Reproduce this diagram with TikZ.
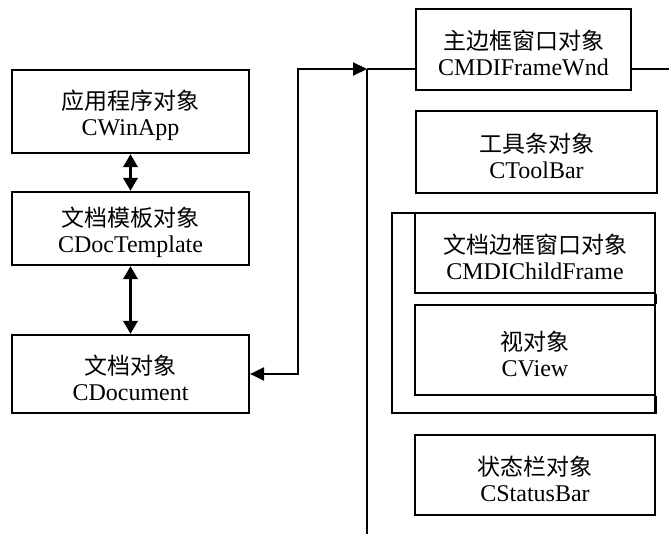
\documentclass[tikz,border=0pt]{standalone}
\usepackage{fontspec}
\setmainfont{Liberation Serif}
\newfontfamily\cjk{Noto Sans CJK SC}
\usetikzlibrary{arrows.meta}
\newcommand{\twol}[2]{\rule{0pt}{27pt}{\cjk\fontsize{23}{26}\selectfont #1}\\#2}
\begin{document}
\begin{tikzpicture}[x=1pt,y=-1pt,
  box/.style={draw,line width=2.2pt,rectangle,inner sep=0pt,align=center,
    font=\fontsize{24}{26}\selectfont,fill=white},
  conn/.style={line width=2.2pt},
  thick conn/.style={line width=3.6pt},
  tips/.style={{Triangle[length=13pt,width=14pt]}-{Triangle[length=13pt,width=14pt]}},
  tipl/.style={{Triangle[length=14pt,width=13pt]}-{Triangle[length=14pt,width=13pt]}}]
\useasboundingbox (0,0) rectangle (669,534);
% left column
\node[box,minimum width=237pt,minimum height=83pt] (app) at (130.5,111.5) {\twol{应用程序对象}{CWinApp}};
\node[box,minimum width=237pt,minimum height=73pt] (tmpl) at (130.5,228.5) {\twol{文档模板对象}{CDocTemplate}};
\node[box,minimum width=237pt,minimum height=78pt] (doc) at (130.5,374) {\twol{文档对象}{CDocument}};
\draw[thick conn,tips] (app.south) -- (tmpl.north);
\draw[thick conn,tips] (tmpl.south) -- (doc.north);
% right column
\node[box,minimum width=215pt,minimum height=81pt] (main) at (523.5,49.5) {\twol{主边框窗口对象}{CMDIFrameWnd}};
\node[box,minimum width=241pt,minimum height=82pt] (bar) at (536.5,152) {\twol{工具条对象}{CToolBar}};
\node[draw,line width=2.2pt,minimum width=263pt,minimum height=200pt,inner sep=0pt] (outer) at (523.5,313) {};
\node[box,minimum width=240pt,minimum height=80pt] (child) at (535,253) {\twol{文档边框窗口对象}{CMDIChildFrame}};
\node[box,minimum width=240pt,minimum height=90pt] (view) at (535,350) {\twol{视对象}{CView}};
\draw[conn] (child.south east) -- (view.north east);
\draw[conn] (view.south east) -- (outer.south east);
\node[box,minimum width=240pt,minimum height=80pt] (status) at (535,475) {\twol{状态栏对象}{CStatusBar}};
% bus
\coordinate (vt) at (367,69);
\coordinate (vb) at (367,534);
\coordinate (bend) at (298,69);
\coordinate (rend) at (669,69);
\draw[conn] (vt) -- (vb);
\draw[conn,tipl] (doc.east) -| (bend) -- (vt);
\draw[conn] (vt) -- (main.west |- vt);
\draw[conn] (main.east |- rend) -- (rend);
\end{tikzpicture}
\end{document}
